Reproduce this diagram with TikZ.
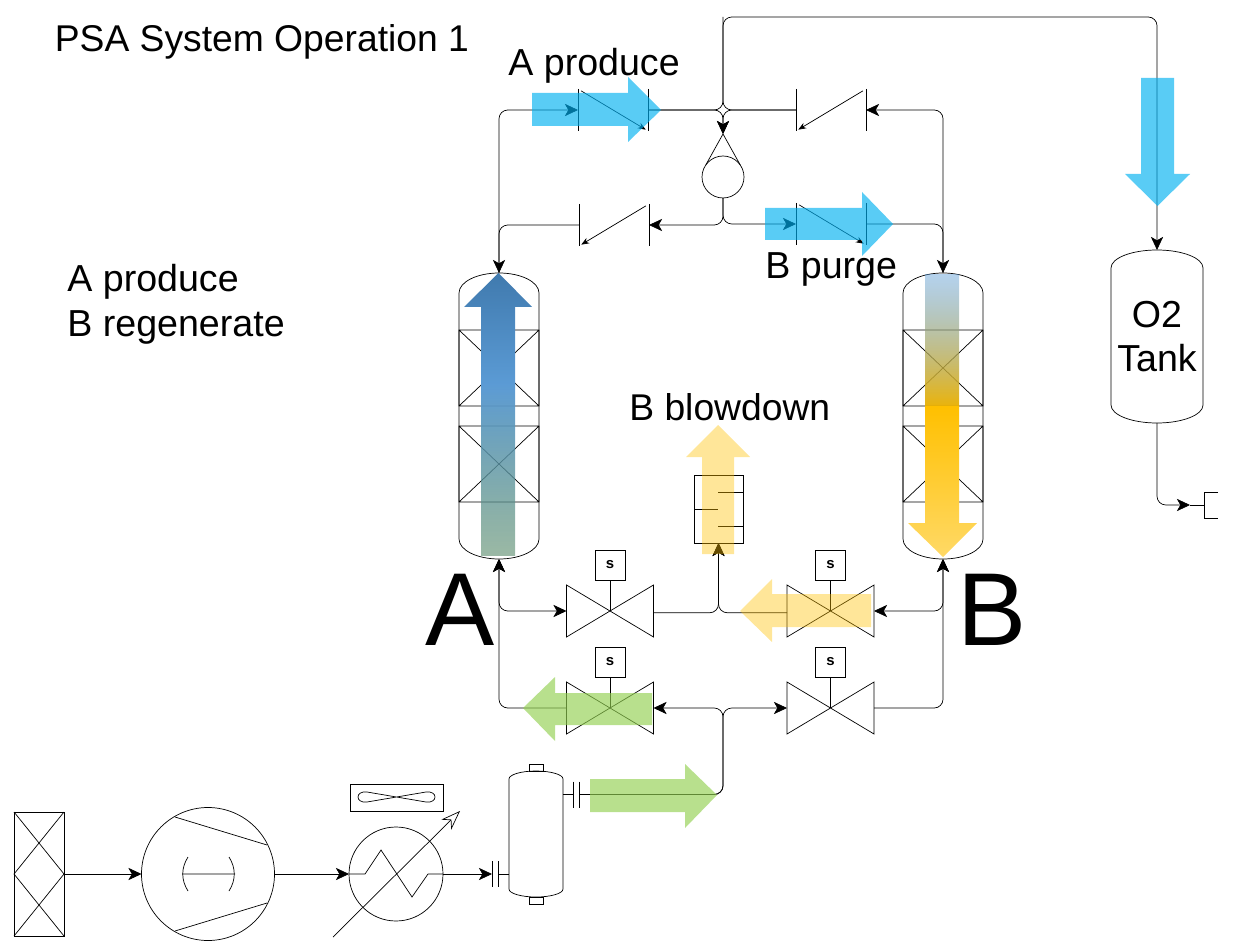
\documentclass[tikz,border=0pt]{standalone}
\usepackage{fontspec}
\setmainfont{Liberation Sans}
\usetikzlibrary{arrows.meta,fadings}

\def\pxu{0.02cm}
\newcommand{\twobars}[1]{\draw (#1.north west) -- (#1.south west) (#1.north east) -- (#1.south east);}
\newcommand{\drum}[3]{\draw ([yshift=-#3*\pxu]#1.north west) arc[start angle=180,end angle=0,x radius=#2*\pxu,y radius=#3*\pxu] -- ([yshift=#3*\pxu]#1.south east) arc[start angle=0,end angle=-180,x radius=#2*\pxu,y radius=#3*\pxu] -- cycle;}

\tikzfading[name=fadeAlow, top color=transparent!0, bottom color=transparent!40]
\tikzfading[name=fadeBtop, top color=transparent!55, bottom color=transparent!3]

\tikzset{
  line width=0.85pt,
  box/.style={rectangle, inner sep=0pt, outer sep=0pt},
  valve/.style={box, minimum width=87*\pxu, minimum height=52*\pxu},
  solenoid/.style={box, draw, minimum width=30*\pxu, minimum height=30*\pxu, font=\bfseries\fontsize{8.5}{10}\selectfont},
  check/.style={box, minimum width=70*\pxu, minimum height=42*\pxu},
  flange/.style={box, minimum width=6*\pxu, minimum height=26*\pxu},
  ring/.style={circle, draw, inner sep=0pt, outer sep=0pt},
  tag/.style={inner sep=0pt, anchor=base west, font=\fontsize{21.4}{25.5}\selectfont},
  bigtag/.style={inner sep=0pt, anchor=base west, font=\fontsize{59}{60}\selectfont},
  pipe/.style={rounded corners=5pt},
  arrow/.style={pipe, -{Stealth[length=7.5pt,width=7pt,inset=2pt]}},
  twoway/.style={pipe, {Stealth[length=7.5pt,width=7pt,inset=2pt]}-{Stealth[length=7.5pt,width=7pt,inset=2pt]}},
  bluef/.style={fill={rgb,255:red,0;green,176;blue,240}, fill opacity=.65, draw=none},
  yellowf/.style={fill={rgb,255:red,255;green,192;blue,0}, fill opacity=.4, draw=none},
  greenf/.style={fill={rgb,255:red,146;green,208;blue,80}, fill opacity=.65, draw=none},
}

\definecolor{flowblue}{RGB}{91,155,213}
\definecolor{flowdeep}{RGB}{64,122,174}
\definecolor{flowsage}{RGB}{88,138,105}
\definecolor{flowamber}{RGB}{255,192,0}
\definecolor{flowpale}{RGB}{255,217,102}

\begin{document}
\begin{tikzpicture}[x=\pxu, y=-\pxu]
  \useasboundingbox (0,0) rectangle (1239,952);

  % titles
  \node (title) [tag, font=\fontsize{21.2}{25.5}\selectfont] at (54.5,52) {PSA System Operation 1};
  \node (modeA) [tag] at (67,292) {A produce};
  \node (modeB) [tag] at (67,337) {B regenerate};
  \node (prodA) [tag] at (508,76) {A produce};
  \node (purgeB) [tag] at (765,279) {B purge};
  \node (blowB) [tag, font=\fontsize{21.2}{25.5}\selectfont] at (629,420) {B blowdown};
  \node (nameA) [bigtag] at (425,645) {A};
  \node (nameB) [bigtag] at (957,645) {B};

  % columns and tank
  \node (colA) [box, minimum width=80*\pxu, minimum height=286*\pxu] at (499,416) {};
  \node (colB) [box, minimum width=80*\pxu, minimum height=286*\pxu] at (943,416) {};
  \node (tank) [box, minimum width=92*\pxu, minimum height=173*\pxu, align=center, font=\fontsize{21.4}{25.5}\selectfont] at (1157,336.5) {O2\\Tank};
  \drum{colA}{40}{20}
  \drum{colB}{40}{20}
  \drum{tank}{46}{18}
  \foreach \xa/\xb in {459/539,903/983}
    \foreach \ya/\yb in {330/406,426/502}
      \draw (\xa,\ya) rectangle (\xb,\yb) (\xa,\ya) -- (\xb,\yb) (\xa,\yb) -- (\xb,\ya);

  % valves
  \foreach \name/\x/\y in {vVentA/610/611,vVentB/830.5/611,vFeedA/610/708,vFeedB/830.5/708}{
    \node (\name) [valve] at (\x,\y) {};
    \draw (\name.north west) -- (\name.south east) -- (\name.north east) -- (\name.south west) -- cycle;
    \node (\name-s) [solenoid] at (\x,\y-46) {s};
    \draw (\name-s.south) -- (\name.center);
  }

  % check valves
  \foreach \name/\x/\y/\a/\b in {vProdA/613/110/north west/south east,vBackB/831/110/north east/south west,vBackA/614/225/north east/south west,vPurgeB/831/224/north west/south east}{
    \node (\name) [check] at (\x,\y) {};
    \twobars{\name}
    \draw [-{Stealth[length=4.5pt,width=3.5pt]}, shorten <=2pt, shorten >=1.5pt] (\name.\a) -- (\name.\b);
  }

  % purge orifice
  \node (pump) [ring, minimum size=42*\pxu] at (723,177) {};
  \coordinate (pumpTip) at (723,134);
  \draw (pump.35) -- (pumpTip) -- (pump.145);

  % silencer
  \node (silencer) [box, draw, minimum width=49*\pxu, minimum height=68*\pxu] at (718.5,509) {};
  \draw (718,492) -- (743,492) (694,509) -- (718,509) (718,526) -- (743,526);

  % feed train
  \node (filter) [box, draw, minimum width=50*\pxu, minimum height=124*\pxu] at (39,874) {};
  \draw (14,812) -- (64,874) -- (14,936) (64,812) -- (14,874) -- (64,936);
  \node (comp) [ring, minimum size=133*\pxu] at (208,874) {};
  \draw (175,817) -- (267,845) (175,931) -- (267,903) (182,874) -- (235,874);
  \draw (188,857) .. controls (181,868) and (181,880) .. (188,891);
  \draw (229,857) .. controls (236,868) and (236,880) .. (229,891);
  \node (cooler) [ring, minimum size=94*\pxu] at (396,874) {};
  \node (fan) [box, draw, minimum width=93*\pxu, minimum height=27*\pxu] at (396.5,797.5) {};
  \draw (396.5,797) -- (367,792) .. controls (355,790.5) and (355,803.5) .. (367,802) -- (426,792) .. controls (438,790.5) and (438,803.5) .. (426,802) -- cycle;
  \draw (cooler.west) -- (365,874) -- (381,850) -- (412,897) -- (428,874) -- (cooler.east);
  \coordinate (trimLow) at (333,937);
  \coordinate (trimHigh) at (460,811);
  \draw [-{Stealth[open,length=11pt,width=8pt,fill=white]}] (trimLow) -- (trimHigh);
  \node (flangeIn) [flange] at (495,874) {};
  \twobars{flangeIn}
  \node (sep) [box, minimum width=54*\pxu, minimum height=126*\pxu] at (536,834) {};
  \drum{sep}{27}{8}
  \node (sep-top) [box, draw, minimum width=14*\pxu, minimum height=7*\pxu] at (536,767.5) {};
  \node (sep-bot) [box, draw, minimum width=14*\pxu, minimum height=7*\pxu] at (536,900.5) {};
  \node (flangeOut) [flange] at (576,794.5) {};
  \twobars{flangeOut}

  % outlet
  \node (outlet) [box, minimum width=14*\pxu, minimum height=26*\pxu] at (1211,505) {};
  \draw (outlet.north east) -- (outlet.north west) -- (outlet.south west) -- (outlet.south east);
  \coordinate (outletTip) at (1190,505);

  % pipes
  \coordinate (topLeft) at (723,17);
  \coordinate (topRight) at (1157,17);
  \coordinate (feedTee) at (723,708);
  \draw [arrow] (colA.north) |- (vProdA.west);
  \draw [arrow] (vBackA.west) -| (colA.north);
  \draw [arrow] (colB.north) |- (vBackB.east);
  \draw [arrow] (vPurgeB.east) -| (colB.north);
  \draw [arrow] (vProdA.east) -| (pumpTip);
  \draw [arrow] (vBackB.west) -| (pumpTip);
  \draw [arrow] (vProdA.east) -| (topLeft) -- (topRight) -- (tank.north);
  \draw [pipe] (vBackB.west) -| (topLeft);
  \draw [arrow] (pump.south) |- (vBackA.east);
  \draw [arrow] (pump.south) |- (vPurgeB.west);
  \draw [twoway] (colA.south) |- (vVentA.west);
  \draw [arrow] (vFeedA.west) -| (colA.south);
  \draw [twoway] (colB.south) |- (vVentB.east);
  \draw [arrow] (vFeedB.east) -| (colB.south);
  \draw [arrow] ([yshift=-1pt]vVentA.east) -| (silencer.south);
  \draw [arrow] ([yshift=-1pt]vVentB.west) -| (silencer.south);
  \draw [arrow] (flangeOut.east) -| (feedTee) -- (vFeedA.east);
  \draw [arrow] (flangeOut.east) -| (feedTee) -- (vFeedB.west);
  \draw (flangeOut.west) -- (flangeOut.west -| sep.east);
  \draw (flangeIn.east) -- (flangeIn.east -| sep.west);
  \draw [arrow] (filter.east) -- (comp.west);
  \draw [arrow] (comp.east) -- (cooler.west);
  \draw [arrow] (cooler.east) -- (flangeIn.west);
  \draw [arrow] (tank.south) |- (outletTip);
  \draw (outletTip) -- (outlet.west);

  % flow arrows
  \fill [bluef] (532,93) -- (628,93) -- (628,77) -- (661,110) -- (628,142) -- (628,126) -- (532,126) -- cycle;
  \fill [bluef] (765,208) -- (862,208) -- (862,192) -- (893,224) -- (862,256) -- (862,240) -- (765,240) -- cycle;
  \fill [bluef] (1141,78) -- (1174,78) -- (1174,174) -- (1190,174) -- (1157.5,206) -- (1125,174) -- (1141,174) -- cycle;
  \fill [yellowf] (702,554) -- (702,457) -- (686,457) -- (718,425) -- (750,457) -- (734,457) -- (734,554) -- cycle;
  \fill [yellowf] (871,594) -- (772,594) -- (772,579) -- (740,611) -- (772,642) -- (772,627) -- (871,627) -- cycle;
  \fill [greenf] (652,693) -- (555,693) -- (555,677) -- (523,708) -- (555,741) -- (555,725) -- (652,725) -- cycle;
  \fill [greenf] (590,779) -- (685,779) -- (685,764) -- (717,795) -- (685,828) -- (685,812) -- (590,812) -- cycle;

  % column A, rising
  \shade [top color=flowblue, bottom color=flowsage, path fading=fadeAlow] (481,384) rectangle (515,556);
  \shade [top color=flowdeep, bottom color=flowblue] (481,385) -- (481,307) -- (464,307) -- (498.5,273) -- (532,307) -- (515,307) -- (515,385) -- cycle;
  % column B, falling
  \shade [top color=flowblue, bottom color=flowamber!92!black, path fading=fadeBtop] (925,275) rectangle (959,407);
  \shade [top color=flowamber, bottom color=flowpale] (925,406) -- (959,406) -- (959,523) -- (977,523) -- (943,557) -- (908,523) -- (925,523) -- cycle;
\end{tikzpicture}
\end{document}
